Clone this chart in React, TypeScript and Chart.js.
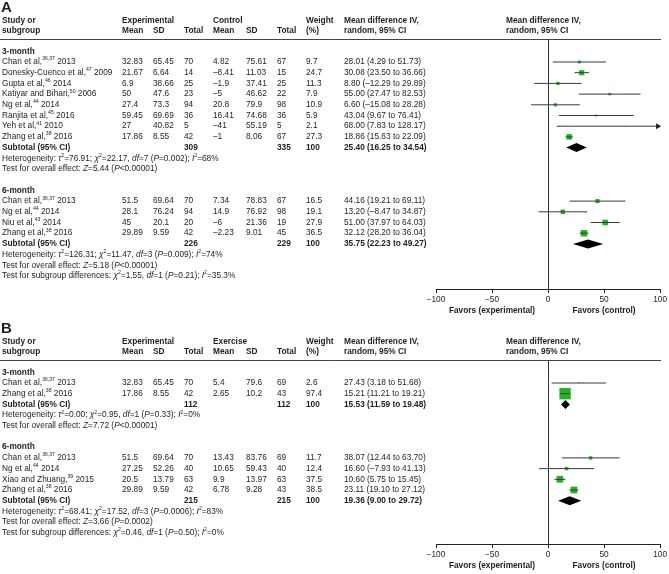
import React, { useEffect, useRef } from "react";
import { Chart, registerables } from "chart.js";
Chart.register(...registerables);

const FONT = "'Liberation Sans', Arial, Helvetica, sans-serif";
const TXT = "#1e1e1e";
const GREEN = "#22b422";
const FS = 8.3;

// ---------- Panel A : 3-month ----------
const a3Studies = ["Chan et al,{s:36,37} 2013", "Donesky-Cuenco et al,{s:47} 2009", "Gupta et al,{s:46} 2014", "Katiyar and Bihari,{s:50} 2006", "Ng et al,{s:44} 2014", "Ranjita et al,{s:45} 2016", "Yeh et al,{s:41} 2010", "Zhang et al,{s:38} 2016"];
const a3ExpMean = ["32.83", "21.67", "6.9", "50", "27.4", "59.45", "27", "17.86"];
const a3ExpSD = ["65.45", "6.64", "38.66", "47.6", "73.3", "69.69", "40.82", "8.55"];
const a3ExpN = ["70", "14", "25", "23", "94", "36", "5", "42"];
const a3CtlMean = ["4.82", "–8.41", "–1.9", "–5", "20.8", "16.41", "–41", "–1"];
const a3CtlSD = ["75.61", "11.03", "37.41", "46.62", "79.9", "74.68", "55.19", "8.06"];
const a3CtlN = ["67", "15", "25", "22", "98", "36", "5", "67"];
const a3Weight = [9.7, 24.7, 11.3, 7.9, 10.9, 5.9, 2.1, 27.3];
const a3MD = [28.01, 30.08, 8.8, 55.0, 6.6, 43.04, 68.0, 18.86];
const a3Lo = [4.29, 23.5, -12.29, 27.47, -15.08, 9.67, 7.83, 15.63];
const a3Hi = [51.73, 36.66, 29.89, 82.53, 28.28, 76.41, 128.17, 22.09];
const a3Sub = [309, 335, 25.4, 16.25, 34.54];
const a3Het = "Heterogeneity: {i:τ}{s:2}=76.91; {i:χ}{s:2}=22.17, {i:df}=7 ({i:P}=0.002); {i:I}{s:2}=68%";
const a3Test = "Test for overall effect: {i:Z}=5.44 ({i:P}<0.00001)";

// ---------- Panel A : 6-month ----------
const a6Studies = ["Chan et al,{s:36,37} 2013", "Ng et al,{s:44} 2014", "Niu et al,{s:43} 2014", "Zhang et al,{s:38} 2016"];
const a6ExpMean = ["51.5", "28.1", "45", "29.89"];
const a6ExpSD = ["69.64", "76.24", "20.1", "9.59"];
const a6ExpN = ["70", "94", "20", "42"];
const a6CtlMean = ["7.34", "14.9", "–6", "–2.23"];
const a6CtlSD = ["78.83", "76.92", "21.36", "9.01"];
const a6CtlN = ["67", "98", "19", "45"];
const a6Weight = [16.5, 19.1, 27.9, 36.5];
const a6MD = [44.16, 13.2, 51.0, 32.12];
const a6Lo = [19.21, -8.47, 37.97, 28.2];
const a6Hi = [69.11, 34.87, 64.03, 36.04];
const a6Sub = [226, 229, 35.75, 22.23, 49.27];
const a6Het = "Heterogeneity: {i:τ}{s:2}=126.31; {i:χ}{s:2}=11.47, {i:df}=3 ({i:P}=0.009); {i:I}{s:2}=74%";
const a6Test = "Test for overall effect: {i:Z}=5.18 ({i:P}<0.00001)";
const aSubgroup = "Test for subgroup differences: {i:χ}{s:2}=1.55, {i:df}=1 ({i:P}=0.21); {i:I}{s:2}=35.3%";

// ---------- Panel B : 3-month ----------
const b3Studies = ["Chan et al,{s:36,37} 2013", "Zhang et al,{s:38} 2016"];
const b3ExpMean = ["32.83", "17.86"];
const b3ExpSD = ["65.45", "8.55"];
const b3ExpN = ["70", "42"];
const b3CtlMean = ["5.4", "2.65"];
const b3CtlSD = ["79.6", "10.2"];
const b3CtlN = ["69", "43"];
const b3Weight = [2.6, 97.4];
const b3MD = [27.43, 15.21];
const b3Lo = [3.18, 11.21];
const b3Hi = [51.68, 19.21];
const b3Sub = [112, 112, 15.53, 11.59, 19.48];
const b3Het = "Heterogeneity: {i:τ}{s:2}=0.00; {i:χ}{s:2}=0.95, {i:df}=1 ({i:P}=0.33); {i:I}{s:2}=0%";
const b3Test = "Test for overall effect: {i:Z}=7.72 ({i:P}<0.00001)";

// ---------- Panel B : 6-month ----------
const b6Studies = ["Chan et al,{s:36,37} 2013", "Ng et al,{s:44} 2014", "Xiao and Zhuang,{s:39} 2015", "Zhang et al,{s:38} 2016"];
const b6ExpMean = ["51.5", "27.25", "20.5", "29.89"];
const b6ExpSD = ["69.64", "52.26", "13.79", "9.59"];
const b6ExpN = ["70", "40", "63", "42"];
const b6CtlMean = ["13.43", "10.65", "9.9", "6.78"];
const b6CtlSD = ["83.76", "59.43", "13.97", "9.28"];
const b6CtlN = ["69", "40", "63", "43"];
const b6Weight = [11.7, 12.4, 37.5, 38.5];
const b6MD = [38.07, 16.6, 10.6, 23.11];
const b6Lo = [12.44, -7.93, 5.75, 19.1];
const b6Hi = [63.7, 41.13, 15.45, 27.12];
const b6Sub = [215, 215, 19.36, 9.0, 29.72];
const b6Het = "Heterogeneity: {i:τ}{s:2}=68.41; {i:χ}{s:2}=17.52, {i:df}=3 ({i:P}=0.0006); {i:I}{s:2}=83%";
const b6Test = "Test for overall effect: {i:Z}=3.66 ({i:P}=0.0002)";
const bSubgroup = "Test for subgroup differences: {i:χ}{s:2}=0.46, {i:df}=1 ({i:P}=0.50); {i:I}{s:2}=0%";

const xTicks = [-100, -50, 0, 50, 100];

function fmt(v: number) {
  const s = v.toFixed(2);
  return s.startsWith("-") ? "–" + s.slice(1) : s;
}

function group(title: string, names: string[], em: string[], es: string[], en: string[], cm: string[], cs: string[], cn: string[], w: number[], md: number[], lo: number[], hi: number[], sub: number[], het: string, test: string) {
  return { title, names, em, es, en, cm, cs, cn, w, md, lo, hi, sub, het, test };
}

function buildRows(groups: any[], subgroupTest: string) {
  const rows: any[] = [];
  groups.forEach((g, gi) => {
    if (gi > 0) rows.push({ kind: "blank" });
    rows.push({ kind: "group", text: g.title });
    g.names.forEach((n: string, i: number) => {
      rows.push({ kind: "study", name: n, cells: [g.em[i], g.es[i], g.en[i], g.cm[i], g.cs[i], g.cn[i], String(g.w[i])], w: g.w[i], md: g.md[i], lo: g.lo[i], hi: g.hi[i] });
    });
    rows.push({ kind: "subtotal", nE: String(g.sub[0]), nC: String(g.sub[1]), md: g.sub[2], lo: g.sub[3], hi: g.sub[4] });
    rows.push({ kind: "note", text: g.het });
    rows.push({ kind: "note", text: g.test });
  });
  rows.push({ kind: "note", text: subgroupTest });
  return rows;
}

function drawRich(ctx: CanvasRenderingContext2D, str: string, x: number, y: number, size: number, bold: boolean) {
  const re = /\{(i|s):([^}]*)\}/g;
  const segs: [string, string][] = [];
  let last = 0;
  let m: RegExpExecArray | null;
  while ((m = re.exec(str))) {
    if (m.index > last) segs.push(["n", str.slice(last, m.index)]);
    segs.push([m[1], m[2]]);
    last = re.lastIndex;
  }
  if (last < str.length) segs.push(["n", str.slice(last)]);
  let cx = x;
  for (const [k, t] of segs) {
    const sz = k === "s" ? size * 0.62 : size;
    ctx.font = `${k === "i" ? "italic " : ""}${bold ? "bold " : ""}${sz}px ${FONT}`;
    ctx.fillText(t, cx, k === "s" ? y - size * 0.36 : y);
    cx += ctx.measureText(t).width;
  }
}

const COLS = [122, 153, 184, 213, 246, 277, 306];
const CI_X = 344;

function makeConfig(letter: string, ctlLabel: string, groups: any[], subTest: string, H: number, axisY: number) {
  const rows = buildRows(groups, subTest);
  const top = 40;
  const firstRow = 51.3;
  const step = 10.7;
  const yMin = -(firstRow - top) / step;
  const yMax = yMin + (axisY - top) / step;

  const datasets: any[] = [];
  const squares: any[] = [];
  const radii: number[] = [];
  rows.forEach((r, i) => {
    if (r.kind === "study") {
      datasets.push({
        data: [{ x: r.lo, y: i }, { x: r.hi, y: i }],
        showLine: true,
        borderColor: "#383838",
        borderWidth: 1,
        pointRadius: 0,
        pointHoverRadius: 0,
      });
      squares.push({ x: r.md, y: i });
      radii.push(Math.max(0.7, 1.25 * Math.sqrt(r.w) - 1) / Math.SQRT2);
    }
  });
  datasets.push({
    data: squares,
    pointStyle: "rect",
    pointRadius: radii,
    pointHoverRadius: radii,
    backgroundColor: GREEN,
    borderWidth: 0,
  });

  const plugin = {
    id: "forest" + letter,
    afterDatasetsDraw(chart: any) {
      const { ctx, scales, chartArea } = chart;
      const x = scales.x;
      const y = scales.y;
      ctx.save();
      ctx.fillStyle = "#000";
      rows.forEach((r, i) => {
        const yy = y.getPixelForValue(i);
        if (r.kind === "subtotal") {
          ctx.beginPath();
          ctx.moveTo(x.getPixelForValue(r.lo), yy);
          ctx.lineTo(x.getPixelForValue(r.md), yy - 4.5);
          ctx.lineTo(x.getPixelForValue(r.hi), yy);
          ctx.lineTo(x.getPixelForValue(r.md), yy + 4.5);
          ctx.closePath();
          ctx.fill();
        }
        if (r.kind === "study" && r.hi > x.max) {
          const ax = chartArea.right + 1;
          ctx.fillStyle = "#222";
          ctx.beginPath();
          ctx.moveTo(ax, yy);
          ctx.lineTo(ax - 5, yy - 3);
          ctx.lineTo(ax - 5, yy + 3);
          ctx.closePath();
          ctx.fill();
          ctx.fillStyle = "#000";
        }
      });
      ctx.restore();
    },
    afterDraw(chart: any) {
      const { ctx, scales, chartArea } = chart;
      const x = scales.x;
      const y = scales.y;
      ctx.save();
      ctx.fillStyle = TXT;
      ctx.textBaseline = "alphabetic";
      ctx.textAlign = "left";
      ctx.font = `bold 15px ${FONT}`;
      ctx.fillText(letter, 1, 12);

      ctx.textBaseline = "middle";
      const h1 = chartArea.top - 19;
      const h2 = chartArea.top - 9;
      ctx.font = `bold ${FS}px ${FONT}`;
      ctx.fillText("Study or", 2, h1);
      ctx.fillText("subgroup", 2, h2);
      ctx.fillText("Experimental", COLS[0], h1);
      ctx.fillText("Mean", COLS[0], h2);
      ctx.fillText("SD", COLS[1], h2);
      ctx.fillText("Total", COLS[2], h2);
      ctx.fillText(ctlLabel, COLS[3], h1);
      ctx.fillText("Mean", COLS[3], h2);
      ctx.fillText("SD", COLS[4], h2);
      ctx.fillText("Total", COLS[5], h2);
      ctx.fillText("Weight", COLS[6], h1);
      ctx.fillText("(%)", COLS[6], h2);
      ctx.fillText("Mean difference IV,", CI_X, h1);
      ctx.fillText("random, 95% CI", CI_X, h2);
      ctx.fillText("Mean difference IV,", chartArea.left + 70, h1);
      ctx.fillText("random, 95% CI", chartArea.left + 70, h2);

      // header rule
      ctx.strokeStyle = "#444";
      ctx.lineWidth = 1;
      const ly = Math.round(chartArea.top) - 0.5;
      ctx.beginPath();
      ctx.moveTo(0, ly);
      ctx.lineTo(chartArea.right + 1, ly);
      ctx.stroke();

      rows.forEach((r, i) => {
        const yy = y.getPixelForValue(i);
        if (r.kind === "group") {
          drawRich(ctx, r.text, 2, yy, FS, true);
        } else if (r.kind === "study") {
          drawRich(ctx, r.name, 2, yy, FS, false);
          ctx.font = `${FS}px ${FONT}`;
          r.cells.forEach((c: string, ci: number) => ctx.fillText(c, COLS[ci], yy));
          ctx.fillText(`${fmt(r.md)} (${fmt(r.lo)} to ${fmt(r.hi)})`, CI_X, yy);
        } else if (r.kind === "subtotal") {
          ctx.font = `bold ${FS}px ${FONT}`;
          ctx.fillText("Subtotal (95% CI)", 2, yy);
          ctx.fillText(r.nE, COLS[2], yy);
          ctx.fillText(r.nC, COLS[5], yy);
          ctx.fillText("100", COLS[6], yy);
          ctx.fillText(`${fmt(r.md)} (${fmt(r.lo)} to ${fmt(r.hi)})`, CI_X, yy);
        } else if (r.kind === "note") {
          drawRich(ctx, r.text, 2, yy, FS, false);
        }
      });

      ctx.font = `bold ${FS}px ${FONT}`;
      ctx.textAlign = "center";
      const fy = chartArea.bottom + 22;
      ctx.fillText("Favors (experimental)", x.getPixelForValue(-50), fy);
      ctx.fillText("Favors (control)", x.getPixelForValue(50), fy);
      ctx.restore();
    },
  };

  return {
    type: "scatter" as const,
    data: { datasets },
    plugins: [plugin],
    options: {
      responsive: false,
      animation: false,
      events: [],
      layout: { padding: { top: top, left: 436, right: 7, bottom: 0 } },
      plugins: { legend: { display: false }, tooltip: { enabled: false } },
      scales: {
        x: {
          type: "linear",
          min: -100,
          max: 100,
          afterBuildTicks: (s: any) => {
            s.ticks = xTicks.map((v) => ({ value: v }));
          },
          afterFit: (s: any) => {
            s.height = H - axisY;
          },
          ticks: {
            font: { family: FONT, size: FS },
            color: TXT,
            padding: 2,
            maxRotation: 0,
            autoSkip: false,
            callback: (v: any) => (v < 0 ? "\u2212" + Math.abs(v) : String(v)),
          },
          grid: {
            color: (c: any) => (c.tick && c.tick.value === 0 ? "#333" : "rgba(0,0,0,0)"),
            tickColor: "#222",
            tickLength: 4,
            lineWidth: 1,
          },
          border: { display: true, color: "#222", width: 1 },
        },
        y: { type: "linear", display: false, reverse: true, min: yMin, max: yMax },
      },
    },
  };
}

export default function App() {
  const refA = useRef<HTMLCanvasElement>(null);
  const refB = useRef<HTMLCanvasElement>(null);
  useEffect(() => {
    const gA = [
      group("3-month", a3Studies, a3ExpMean, a3ExpSD, a3ExpN, a3CtlMean, a3CtlSD, a3CtlN, a3Weight, a3MD, a3Lo, a3Hi, a3Sub, a3Het, a3Test),
      group("6-month", a6Studies, a6ExpMean, a6ExpSD, a6ExpN, a6CtlMean, a6CtlSD, a6CtlN, a6Weight, a6MD, a6Lo, a6Hi, a6Sub, a6Het, a6Test),
    ];
    const gB = [
      group("3-month", b3Studies, b3ExpMean, b3ExpSD, b3ExpN, b3CtlMean, b3CtlSD, b3CtlN, b3Weight, b3MD, b3Lo, b3Hi, b3Sub, b3Het, b3Test),
      group("6-month", b6Studies, b6ExpMean, b6ExpSD, b6ExpN, b6CtlMean, b6CtlSD, b6CtlN, b6Weight, b6MD, b6Lo, b6Hi, b6Sub, b6Het, b6Test),
    ];
    const a = new Chart(refA.current as HTMLCanvasElement, makeConfig("A", "Control", gA, aSubgroup, 321, 289) as any);
    const b = new Chart(refB.current as HTMLCanvasElement, makeConfig("B", "Exercise", gB, bSubgroup, 253, 223) as any);
    return () => {
      a.destroy();
      b.destroy();
    };
  }, []);
  return (
    <div style={{ position: "absolute", left: 0, top: 0, width: 669, height: 574, background: "#fff" }}>
      <canvas ref={refA} width={669} height={321} style={{ display: "block" }} />
      <canvas ref={refB} width={669} height={253} style={{ display: "block" }} />
    </div>
  );
}
